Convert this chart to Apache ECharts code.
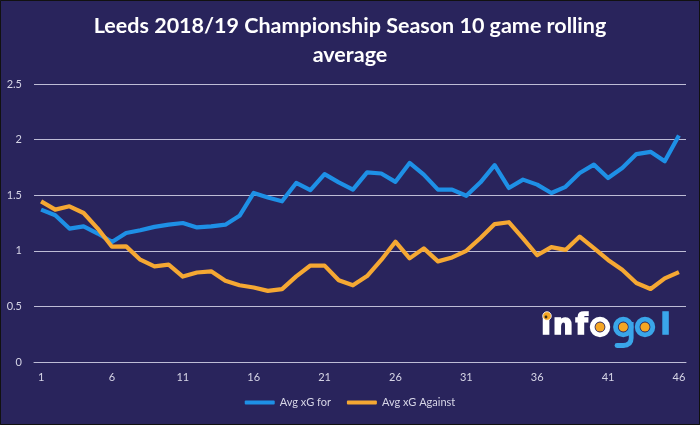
<!DOCTYPE html>
<html><head><meta charset="utf-8">
<script src="https://cdn.jsdelivr.net/npm/echarts@6/dist/echarts.min.js"></script>
<style>html,body{margin:0;padding:0;background:#29245c}#c{width:700px;height:425px}</style>
</head><body><div id="c"></div>
<script>
const games = Array.from({length: 46}, (_, i) => String(i + 1));
const avgXgFor = [1.37,1.32,1.20,1.22,1.155,1.08,1.16,1.185,1.215,1.235,1.25,1.21,1.22,1.235,1.315,1.52,1.48,1.445,1.61,1.545,1.69,1.615,1.55,1.705,1.695,1.62,1.79,1.685,1.55,1.55,1.495,1.616,1.77,1.565,1.64,1.595,1.52,1.575,1.70,1.775,1.655,1.745,1.87,1.89,1.805,2.036];
const avgXgAgainst = [1.445,1.37,1.40,1.34,1.20,1.037,1.04,0.92,0.86,0.875,0.768,0.805,0.815,0.73,0.69,0.67,0.64,0.655,0.77,0.868,0.867,0.735,0.69,0.773,0.918,1.082,0.932,1.022,0.905,0.94,1.0,1.115,1.24,1.257,1.112,0.96,1.033,1.008,1.128,1.025,0.918,0.83,0.71,0.657,0.752,0.808];
const seriesNames = ['Avg xG for', 'Avg xG Against'];
const titleText = 'Leeds 2018/19 Championship Season 10 game rolling\naverage';

const chart = echarts.init(document.getElementById('c'));
const labelColor = '#d6d5e6';
const gridColor = '#bebcd6';
const white = '#ffffff', lblue = '#3aa6ea', gold = '#f5a623';
const graphics = [
  {type:'rect', shape:{x:0.5,y:0.5,width:699,height:424}, style:{fill:'none', stroke:'#111', lineWidth:1}, silent:true}
];
// logo letters
[{t:'\u0131', x:546, c:white},{t:'n', x:563, c:white},{t:'f', x:581.5, c:white},{t:'l', x:665.5, c:lblue}]
  .forEach(l => graphics.push({type:'text', x:l.x, y:327, z:10, style:{text:l.t, fill:l.c, stroke:l.c, lineWidth:1.6, fontSize:28, fontWeight:'bold', fontFamily:'DejaVu Sans', align:'center', verticalAlign:'middle'}}));
// rings for o / g with gold centres
[[600, white],[623.3, lblue],[645, lblue]].forEach(([x, c]) => {
  graphics.push({type:'circle', z:10, shape:{cx:x, cy:327, r:7.8}, style:{fill:'none', stroke:c, lineWidth:4.8}});
  graphics.push({type:'circle', z:11, shape:{cx:x, cy:327, r:4.6}, style:{fill:gold}});
});
graphics.push({type:'line', z:10, shape:{x1:631.2, y1:322, x2:631.2, y2:338}, style:{stroke:lblue, lineWidth:4.8}});
graphics.push({type:'bezierCurve', z:10, shape:{x1:631.2, y1:338, x2:623, y2:345.5, cpx1:631.2, cpy1:345.5}, style:{fill:'none', stroke:lblue, lineWidth:4.8}});
graphics.push({type:'line', z:10, shape:{x1:623, y1:345.5, x2:617, y2:345.5}, style:{stroke:lblue, lineWidth:4.8, lineCap:'round'}});
graphics.push({type:'circle', z:11, shape:{cx:547, cy:316, r:4.3}, style:{fill:gold, stroke:'#ffffff', lineWidth:0.8}});
graphics.push({type:'circle', z:12, shape:{cx:546, cy:317, r:1.4}, style:{fill:'#3a2a10'}});

chart.setOption({
  backgroundColor: '#29245c',
  animation: false,
  title: {
    text: titleText,
    left: 'center', top: 7,
    textStyle: {color:'#ffffff', fontFamily:'Lato', fontWeight:'bold', fontSize:21.5, lineHeight:29}
  },
  legend: {
    data: seriesNames,
    bottom: 12, left: 'center',
    itemWidth: 30, itemHeight: 4, itemGap: 16,
    icon: 'roundRect',
    textStyle: {color: labelColor, fontFamily:'Lato', fontSize: 11}
  },
  grid: {left: 34, right: 14, top: 84, bottom: 63},
  xAxis: {
    type: 'category', data: games, boundaryGap: true,
    axisLine: {show: true, lineStyle: {color: gridColor, width: 1}},
    axisTick: {show: false},
    axisLabel: {color: labelColor, fontFamily:'Lato', fontSize: 11, interval: 4, margin: 10}
  },
  yAxis: {
    type: 'value', min: 0, max: 2.5, interval: 0.5,
    axisLine: {show: false}, axisTick: {show: false},
    splitLine: {lineStyle: {color: gridColor, width: 1}},
    axisLabel: {color: labelColor, fontFamily:'Lato', fontSize: 11, margin: 12}
  },
  series: [
    {name: seriesNames[0], type:'line', data: avgXgFor, symbol:'none', color:'#1e90e6', lineStyle:{width:4.2, color:'#1e90e6', join:'round'}},
    {name: seriesNames[1], type:'line', data: avgXgAgainst, symbol:'none', color:'#f5a833', lineStyle:{width:4.2, color:'#f5a833', join:'round'}}
  ],
  graphic: graphics
});
</script></body></html>
